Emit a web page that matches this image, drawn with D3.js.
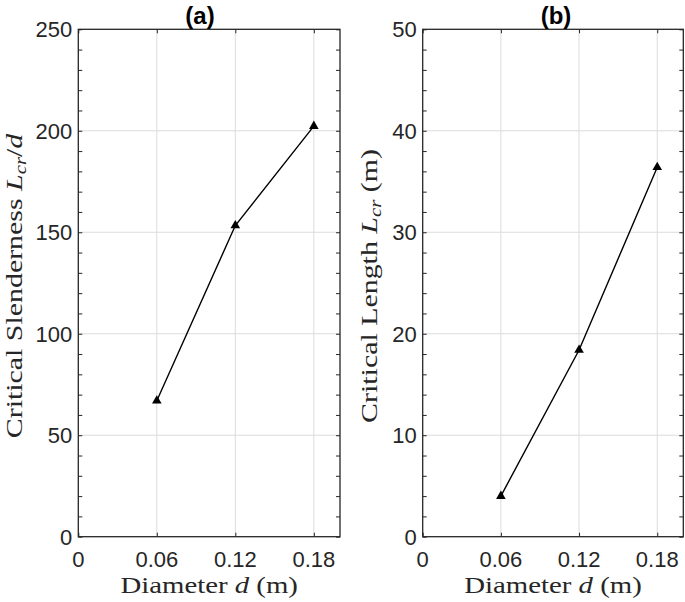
<!DOCTYPE html>
<html>
<head>
<meta charset="utf-8">
<script src="https://cdn.jsdelivr.net/npm/d3@7"></script>
<style>
  body { margin: 0; background: #fff; }
  svg { display: block; }
</style>
</head>
<body>
<svg id="chart" width="685" height="602"></svg>
<script>
// ---- data ----
const diameters = [0.06, 0.12, 0.18];
const slenderness = [67, 153.3, 202.3];
const criticalLength = [4.0, 18.4, 36.4];
const xTicks = [0, 0.06, 0.12, 0.18];
const xTickLabels = ["0", "0.06", "0.12", "0.18"];
const yTicksA = [0, 50, 100, 150, 200, 250];
const yTicksB = [0, 10, 20, 30, 40, 50];

const svg = d3.select("#chart");
const axisColor = "#262626";
const gridColor = "#dcdcdc";
const tickFont = "Liberation Sans, Arial, sans-serif";
const serif = "Liberation Serif, Times New Roman, serif";

function panel(opts) {
  const { x0, x1, y0, y1, ydom, yticks, ydata, title, titleX, ylabelX, ylabelParts } = opts;
  const x = d3.scaleLinear().domain([0, 0.2]).range([x0, x1]);
  const y = d3.scaleLinear().domain(ydom).range([y1, y0]);
  const g = svg.append("g");

  // grid
  g.selectAll(".gx").data(xTicks.slice(1)).join("line")
    .attr("x1", d => x(d)).attr("x2", d => x(d)).attr("y1", y0).attr("y2", y1)
    .attr("stroke", gridColor).attr("stroke-width", 1);
  g.selectAll(".gy").data(yticks.slice(1, -1)).join("line")
    .attr("y1", d => y(d)).attr("y2", d => y(d)).attr("x1", x0).attr("x2", x1)
    .attr("stroke", gridColor).attr("stroke-width", 1);

  // ticks via axes (inward)
  const tl = 4;
  const step = (ydom[1] - ydom[0]) / 25;
  const minor = d3.range(ydom[0], ydom[1] + step / 2, step);
  const axL = d3.axisRight(y).tickValues(minor).tickSize(tl).tickFormat("");
  const axR = d3.axisLeft(y).tickValues(minor).tickSize(tl).tickFormat("");
  const axB = d3.axisTop(x).tickValues(xTicks).tickSize(tl).tickFormat("");
  const axT = d3.axisBottom(x).tickValues(xTicks).tickSize(tl).tickFormat("");
  [[axL, `translate(${x0},0)`], [axR, `translate(${x1},0)`], [axB, `translate(0,${y1})`], [axT, `translate(0,${y0})`]]
    .forEach(([ax, tr]) => {
      const a = g.append("g").attr("transform", tr).call(ax);
      a.select(".domain").remove();
      a.selectAll("line").attr("stroke", axisColor).attr("stroke-width", 1);
    });

  // box
  g.append("rect").attr("x", x0).attr("y", y0).attr("width", x1 - x0).attr("height", y1 - y0)
    .attr("fill", "none").attr("stroke", axisColor).attr("stroke-width", 1.3);

  // tick labels
  g.selectAll(".yl").data(yticks).join("text")
    .attr("x", x0 - 6).attr("y", d => y(d)).attr("dy", "0.36em")
    .attr("text-anchor", "end").attr("font-family", tickFont).attr("font-size", 22)
    .attr("fill", axisColor).text(d => d);
  g.selectAll(".xl").data(xTicks).join("text")
    .attr("x", d => x(d)).attr("y", y1 + 30)
    .attr("text-anchor", "middle").attr("font-family", tickFont).attr("font-size", 22)
    .attr("fill", axisColor).text((d, i) => xTickLabels[i]);

  // line + markers
  const pts = diameters.map((d, i) => [d, ydata[i]]);
  g.append("path").datum(pts)
    .attr("d", d3.line().x(d => x(d[0])).y(d => y(d[1])))
    .attr("fill", "none").attr("stroke", "#000").attr("stroke-width", 1.4);
  g.selectAll(".m").data(pts).join("path")
    .attr("transform", d => `translate(${x(d[0])},${y(d[1])})`)
    .attr("d", d3.symbol().type(d3.symbolTriangle).size(40))
    .attr("fill", "#000");

  // title
  g.append("text").attr("x", titleX).attr("y", 24).attr("text-anchor", "middle")
    .attr("font-family", tickFont).attr("font-weight", "bold").attr("font-size", 24)
    .attr("fill", "#000").text(title);

  // x label
  const xl = g.append("text")
    .attr("transform", `translate(${(x0 + x1) / 2},593) scale(1.2,1)`)
    .attr("text-anchor", "middle")
    .attr("font-family", serif).attr("font-size", 24).attr("fill", axisColor);
  xl.append("tspan").text("Diameter ");
  xl.append("tspan").attr("font-style", "italic").text("d");
  xl.append("tspan").text(" (m)");

  // y label
  const yl = g.append("text")
    .attr("transform", `translate(${ylabelX},${(y0 + y1) / 2 + 3}) rotate(-90) scale(1.3,1)`)
    .attr("text-anchor", "middle").attr("font-family", serif).attr("font-size", 23).attr("fill", axisColor);
  ylabelParts.forEach(p => {
    const t = yl.append("tspan").text(p.t);
    if (p.i) t.attr("font-style", "italic");
    if (p.sub) t.attr("font-size", 16).attr("dy", 4);
    if (p.up) t.attr("dy", -4);
  });
}

panel({
  x0: 78.3, x1: 340, y0: 29.3, y1: 536.7, ydom: [0, 250], yticks: yTicksA, ydata: slenderness,
  title: "(a)", titleX: 200, ylabelX: 22,
  ylabelParts: [{ t: "Critical Slenderness " }, { t: "L", i: true }, { t: "cr", i: true, sub: true }, { t: "/", up: true }, { t: "d", i: true }]
});
panel({
  x0: 422.7, x1: 683.3, y0: 29.3, y1: 536.7, ydom: [0, 50], yticks: yTicksB, ydata: criticalLength,
  title: "(b)", titleX: 556, ylabelX: 377,
  ylabelParts: [{ t: "Critical Length " }, { t: "L", i: true }, { t: "cr", i: true, sub: true }, { t: " (m)", up: true }]
});
</script>
</body>
</html>
